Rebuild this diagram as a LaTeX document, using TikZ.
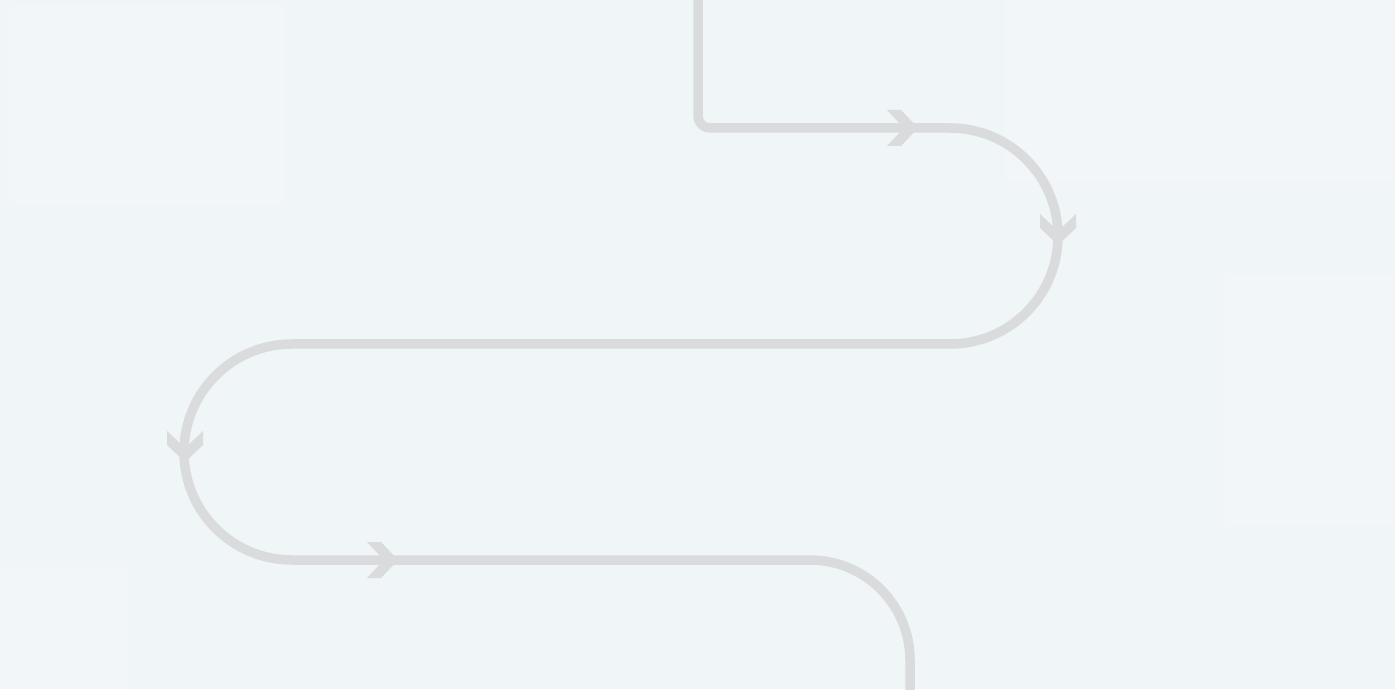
\documentclass[tikz,border=0pt]{standalone}
\definecolor{bgcol}{HTML}{F0F5F7}
\definecolor{faintcol}{HTML}{F2F6F8}
\definecolor{trackcol}{HTML}{DADBDC}
\tikzset{
  track/.style={draw=trackcol, line width=9.5pt, line cap=butt, line join=round},
  chev/.pic={\fill[trackcol] (-16,-18)--(-2,-18)--(15,0)--(-2,18)--(-16,18)--(1,0)--cycle;}
}
\begin{document}
\begin{tikzpicture}[x=1pt,y=1pt]
\useasboundingbox (0,0) rectangle (1395,689);
\fill[bgcol] (0,0) rectangle (1395,689);
% faint background panels
\fill[faintcol] (10,684) rectangle (285,484);
\fill[faintcol] (1005,689) rectangle (1395,509);
\fill[faintcol] (1225,414) rectangle (1395,164);
\fill[faintcol] (0,119) rectangle (128,0);
% track
\coordinate (start) at (698,700);
\coordinate (corner) at (698,561);
\coordinate (a1) at (950,561);
\coordinate (finish) at (910,-10);
\draw[track, rounded corners=12pt] (start) -- (corner) -- (a1);
\draw[track] (a1) arc[start angle=90, end angle=-90, radius=108]
  coordinate (a2) -- (292,345) arc[start angle=90, end angle=270, radius=108]
  coordinate (a3) -- (810,129) arc[start angle=90, end angle=0, radius=100]
  -- (finish);
% chevrons
\pic at (903,561) {chev};
\pic[rotate=-90] at (1058,459) {chev};
\pic[rotate=-90] at (185,242) {chev};
\pic at (383,129) {chev};
\end{tikzpicture}
\end{document}
